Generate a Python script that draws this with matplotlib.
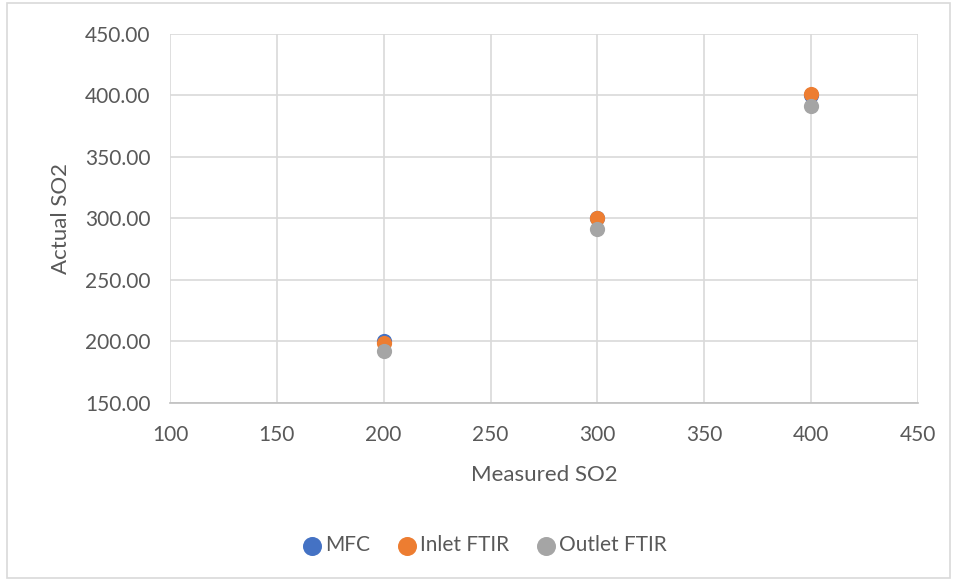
import matplotlib.pyplot as plt
from matplotlib.patches import Rectangle

# data
measured = [200, 300, 400]
mfc = [200.0, 300.0, 400.0]
inlet_ftir = [199.0, 300.2, 401.0]
outlet_ftir = [192.5, 291.5, 391.5]

plt.rcParams['font.family'] = ['Lato', 'DejaVu Sans']

fig = plt.figure(figsize=(9.57, 5.81), dpi=100)
ax = fig.add_axes([0.1776, 0.3064, 0.7816, 0.6351])

# light chart-area border
fig.patches.append(Rectangle((0.007, 0.006), 0.986, 0.988, transform=fig.transFigure,
                             fill=False, edgecolor='#d9d9d9', linewidth=1.2))

ms = 120
ax.scatter(measured, mfc, s=ms, color='#4472c4', label='MFC', zorder=3, linewidths=0)
ax.scatter(measured, inlet_ftir, s=ms, color='#ed7d31', label='Inlet FTIR', zorder=4, linewidths=0)
ax.scatter(measured, outlet_ftir, s=ms, color='#a5a5a5', label='Outlet FTIR', zorder=5, linewidths=0)

ax.set_xlim(100, 450)
ax.set_ylim(150, 450)
ax.set_xticks(range(100, 451, 50))
ax.set_yticks(range(150, 451, 50))
ax.set_yticklabels([f"{v:.2f}" for v in range(150, 451, 50)])

ax.grid(True, color='#d9d9d9', linewidth=1.2)
ax.set_axisbelow(True)
for side in ['top', 'right', 'left']:
    ax.spines[side].set_visible(False)
ax.spines['bottom'].set_color('#bfbfbf')
ax.spines['bottom'].set_linewidth(1.2)
ax.tick_params(length=0, labelsize=15, labelcolor='#595959')
ax.tick_params(axis='x', pad=16)
ax.tick_params(axis='y', pad=14)

ax.set_xlabel('Measured SO2', fontsize=16, color='#595959', labelpad=14)
ax.set_ylabel('Actual SO2', fontsize=16, color='#595959', labelpad=10)

leg = fig.legend(loc='center', bbox_to_anchor=(0.505, 0.062), ncol=3, frameon=False,
                 fontsize=15, handletextpad=0.0, columnspacing=1.2,
                 handlelength=1.2, markerscale=1.25)
for t in leg.get_texts():
    t.set_color('#595959')

fig.savefig('out.png', dpi=100)
